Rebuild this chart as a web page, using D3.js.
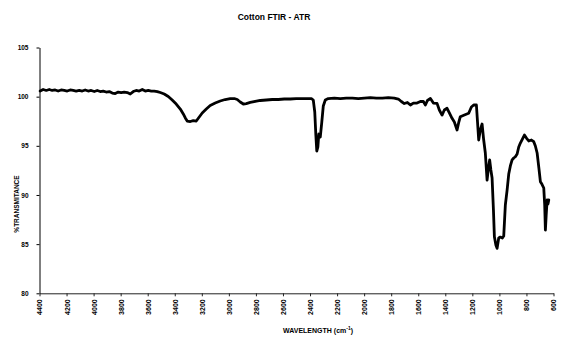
<!DOCTYPE html>
<html>
<head>
<meta charset="utf-8">
<script src="https://cdn.jsdelivr.net/npm/d3@7/dist/d3.min.js"></script>
<style>
  html, body { margin: 0; padding: 0; background: #fff; }
  svg { display: block; font-family: "Liberation Sans", Arial, sans-serif; }
</style>
</head>
<body>
<svg id="chart" width="568" height="340"></svg>
<script>
// Cotton FTIR-ATR spectrum: wavenumber (cm-1) vs % transmittance
const wavenumbers = [
  4395, 4373, 4350, 4328, 4306, 4284, 4262, 4240, 4217, 4195,
  4173, 4151, 4129, 4106, 4084, 4062, 4040, 4018, 3995, 3973,
  3951, 3929, 3907, 3884, 3862, 3840, 3818, 3796, 3774, 3751,
  3729, 3707, 3685, 3663, 3640, 3618, 3596, 3574, 3552, 3529,
  3507, 3478, 3448, 3419, 3389, 3359, 3337, 3322, 3308, 3285,
  3263, 3241, 3219, 3197, 3167, 3138, 3101, 3064, 3027, 2990,
  2960, 2938, 2916, 2893, 2871, 2842, 2805, 2768, 2723, 2679,
  2635, 2590, 2546, 2502, 2457, 2413, 2390, 2376, 2365, 2357,
  2350, 2342, 2335, 2324, 2313, 2302, 2287, 2265, 2220, 2176,
  2132, 2087, 2043, 1999, 1954, 1910, 1865, 1821, 1777, 1747,
  1725, 1703, 1680, 1658, 1636, 1609, 1584, 1562, 1547, 1532,
  1510, 1488, 1461, 1444, 1424, 1407, 1387, 1370, 1350, 1333,
  1313, 1300, 1289, 1259, 1227, 1207, 1190, 1170, 1153, 1141,
  1128, 1116, 1104, 1091, 1081, 1072, 1063, 1054, 1044, 1037,
  1026, 1017, 1005, 993, 978, 968, 956, 943, 931, 919,
  906, 894, 882, 869, 857, 845, 830, 815, 800, 783,
  763, 746, 734, 721, 708, 697, 686, 672, 665, 660,
  654, 647, 641, 635
];
const transmittance = [
  100.57, 100.73, 100.63, 100.73, 100.63, 100.68, 100.57, 100.68, 100.63, 100.57,
  100.68, 100.63, 100.57, 100.63, 100.57, 100.68, 100.57, 100.63, 100.52, 100.63,
  100.52, 100.57, 100.47, 100.52, 100.37, 100.32, 100.47, 100.42, 100.47, 100.42,
  100.27, 100.52, 100.63, 100.57, 100.73, 100.57, 100.63, 100.57, 100.57, 100.52,
  100.42, 100.27, 100.02, 99.66, 99.25, 98.74, 98.24, 97.83, 97.52, 97.47,
  97.57, 97.52, 97.93, 98.34, 98.74, 99.10, 99.35, 99.56, 99.71, 99.81,
  99.81, 99.71, 99.46, 99.25, 99.30, 99.41, 99.51, 99.61, 99.66, 99.71,
  99.71, 99.76, 99.76, 99.81, 99.81, 99.81, 99.81, 99.66, 98.44, 96.10,
  94.47, 94.88, 96.20, 95.90, 97.42, 99.05, 99.66, 99.81, 99.86, 99.81,
  99.86, 99.86, 99.81, 99.86, 99.91, 99.86, 99.86, 99.91, 99.86, 99.76,
  99.51, 99.30, 99.41, 99.15, 99.35, 99.35, 99.51, 99.51, 99.15, 99.61,
  99.81, 99.35, 99.32, 98.64, 98.13, 98.64, 98.82, 98.34, 97.80, 97.42,
  96.61, 97.42, 97.96, 98.13, 98.31, 98.95, 99.15, 99.15, 95.59, 96.61,
  97.22, 95.59, 94.27, 91.52, 92.74, 93.56, 92.54, 91.72, 88.47, 85.75,
  84.91, 84.57, 85.62, 85.72, 85.62, 85.82, 88.98, 90.50, 92.13, 92.95,
  93.56, 93.76, 93.89, 94.17, 94.88, 95.28, 95.69, 96.10, 95.79, 95.49,
  95.59, 95.42, 94.98, 94.27, 92.74, 91.35, 91.11, 90.71, 88.98, 86.43,
  87.96, 89.49, 89.08, 89.49
];
const xTicks = [4400, 4200, 4000, 3800, 3600, 3400, 3200, 3000, 2800, 2600,
                2400, 2200, 2000, 1800, 1600, 1400, 1200, 1000, 800, 600];
const yTicks = [80, 85, 90, 95, 100, 105];

const spectrum = wavenumbers.map((w, i) => ({ w, t: transmittance[i] }));

const svg = d3.select("#chart");
const x = d3.scaleLinear().domain([4400, 600]).range([39.5, 553.5]);
const y = d3.scaleLinear().domain([80, 105]).range([293.3, 47.5]);
const font = "Liberation Sans, Arial, sans-serif";

// title
svg.append("text")
  .attr("x", 274).attr("y", 20)
  .attr("text-anchor", "middle")
  .attr("font-size", 8.5).attr("font-weight", "bold")
  .text("Cotton FTIR - ATR");

// y axis
const gy = svg.append("g")
  .attr("transform", "translate(39.5,0)")
  .call(d3.axisLeft(y).tickValues(yTicks).tickFormat(d3.format("d"))
    .tickSize(3).tickSizeOuter(0).tickPadding(8));
gy.selectAll("text").attr("font-size", 6.5).attr("font-weight", "bold")
  .attr("fill", "#000").attr("font-family", font);
gy.selectAll("line, path").attr("stroke", "#000");

// x axis, labels rotated to read upward
const gx = svg.append("g")
  .attr("transform", "translate(0,293.3)")
  .call(d3.axisBottom(x).tickValues(xTicks).tickFormat(d3.format("d"))
    .tickSize(3).tickSizeOuter(0));
gx.selectAll("text")
  .attr("transform", "rotate(-90)")
  .attr("x", -6).attr("y", 0).attr("dy", "0.35em")
  .attr("text-anchor", "end")
  .attr("font-size", 7).attr("font-weight", "bold")
  .attr("fill", "#000").attr("font-family", font);
gx.selectAll("line, path").attr("stroke", "#222");

// axis titles
svg.append("text")
  .attr("transform", "translate(19,204) rotate(-90)")
  .attr("text-anchor", "middle")
  .attr("font-size", 6.5).attr("font-weight", "bold")
  .text("%TRANSMITANCE");

const xt = svg.append("text")
  .attr("x", 283).attr("y", 333)
  .attr("font-size", 7).attr("font-weight", "bold");
xt.append("tspan").text("WAVELENGTH (cm");
xt.append("tspan").attr("font-size", 5).attr("dy", -3).text("-1");
xt.append("tspan").attr("dy", 3).text(")");

// spectrum trace
svg.append("path")
  .datum(spectrum)
  .attr("fill", "none")
  .attr("stroke", "#000")
  .attr("stroke-width", 2.8)
  .attr("stroke-linejoin", "round")
  .attr("stroke-linecap", "round")
  .attr("d", d3.line().x(d => x(d.w)).y(d => y(d.t)));
</script>
</body>
</html>
